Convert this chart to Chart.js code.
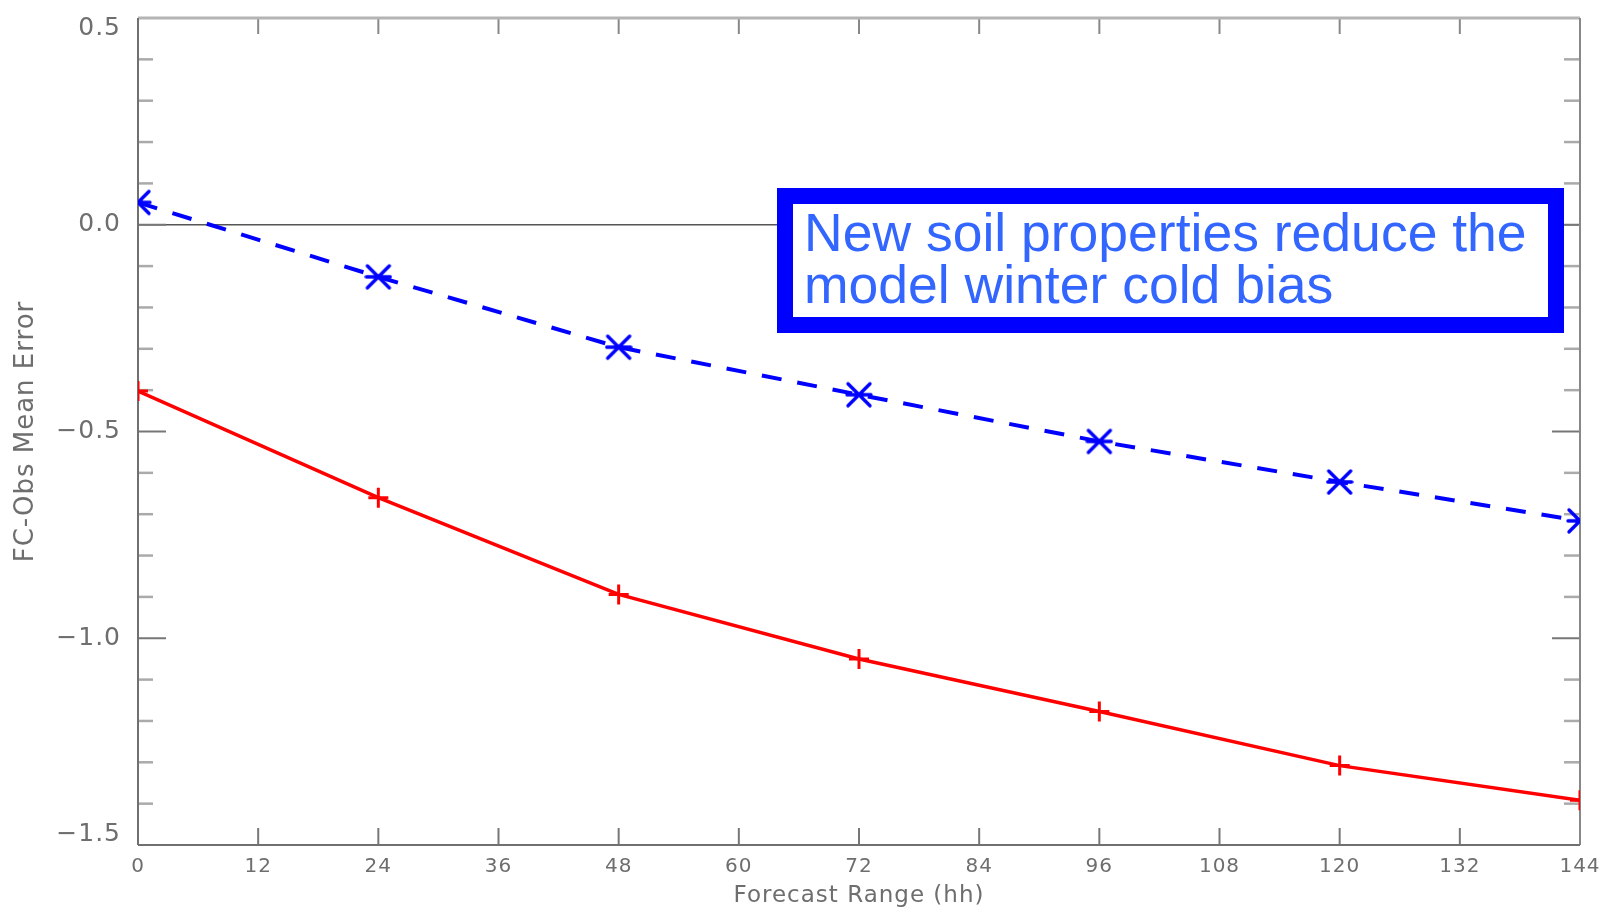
<!DOCTYPE html>
<html>
<head>
<meta charset="utf-8">
<script src="https://cdn.jsdelivr.net/npm/chart.js@4.4.1/dist/chart.umd.min.js"></script>
<style>
body { margin: 0; background: #fff; }
#wrap { position: relative; width: 1610px; height: 907px; }
#note {
  position: absolute; left: 777px; top: 188px; width: 787px; height: 145px;
  box-sizing: border-box; border: 16px solid #0000ff; background: #fff;
  color: #3366ff; font-family: "Liberation Sans", Arial, sans-serif;
  font-size: 53.5px; line-height: 52px; padding: 3px 0 0 11px; white-space: nowrap;
}
</style>
</head>
<body>
<div id="wrap">
  <canvas id="biasChart" width="1610" height="907"></canvas>
  <div id="note">New soil properties reduce the<br>model winter cold bias</div>
</div>
<script>
// forecast range (hh) and mean error of the two runs
var hours = [0, 24, 48, 72, 96, 120, 144];
var newSoil = [0.054, -0.126, -0.296, -0.411, -0.524, -0.622, -0.716];
var oldSoil = [-0.402, -0.660, -0.894, -1.050, -1.177, -1.308, -1.392];

var xTicks = [0, 12, 24, 36, 48, 60, 72, 84, 96, 108, 120, 132, 144];
var yTicks = [-1.5, -1.0, -0.5, 0.0, 0.5];
var yLabels = ['\u22121.5', '\u22121.0', '\u22120.5', '0.0', '0.5'];

var gray = '#6e6e6e';

function points(values) {
  return hours.map(function (h, i) { return { x: h, y: values[i] }; });
}

// IDL style asterisk for the blue run
var star = document.createElement('canvas');
star.width = 28; star.height = 28;
var sc = star.getContext('2d');
sc.strokeStyle = '#0000ff';
sc.lineWidth = 3.4;
sc.lineCap = 'round';
sc.beginPath();
sc.moveTo(3, 3); sc.lineTo(25, 25);
sc.moveTo(25, 3); sc.lineTo(3, 25);
sc.moveTo(2, 14); sc.lineTo(26, 14);
sc.stroke();

function seg(ctx, x1, y1, x2, y2, color, w) {
  ctx.strokeStyle = color;
  ctx.lineWidth = w;
  ctx.beginPath();
  ctx.moveTo(x1, y1);
  ctx.lineTo(x2, y2);
  ctx.stroke();
}

// box, inward ticks and zero line
var frame = {
  id: 'frame',
  beforeDraw: function (chart) {
    chart.ctx.letterSpacing = '1px';
  },
  beforeDatasetsDraw: function (chart) {
    var ctx = chart.ctx, a = chart.chartArea;
    var sx = chart.scales.x, sy = chart.scales.y;
    ctx.save();
    var y0 = sy.getPixelForValue(0);
    seg(ctx, a.left, y0, a.right, y0, '#555', 1.5);
    for (var k = -15; k <= 5; k++) {
      var py = sy.getPixelForValue(k / 10);
      if (k % 5 === 0) {
        seg(ctx, a.left, py, a.left + 28, py, '#777', 2);
        seg(ctx, a.right - 28, py, a.right, py, '#777', 2);
      } else {
        seg(ctx, a.left, py, a.left + 15, py, '#aaa', 2.5);
        seg(ctx, a.right - 16, py, a.right, py, '#aaa', 2.5);
      }
    }
    xTicks.forEach(function (v) {
      var px = sx.getPixelForValue(v);
      seg(ctx, px, a.bottom, px, a.bottom - 17, '#777', 2);
      seg(ctx, px, a.top, px, a.top + 16, '#888', 2);
    });
    seg(ctx, a.left, a.top, a.right, a.top, '#b4b4b4', 3);
    seg(ctx, a.right, a.top, a.right, a.bottom, '#888', 2);
    seg(ctx, a.left, a.bottom, a.right, a.bottom, '#707070', 2);
    seg(ctx, a.left, a.top, a.left, a.bottom, '#707070', 2);
    ctx.restore();
  }
};

var chart = new Chart(document.getElementById('biasChart').getContext('2d'), {
  type: 'line',
  data: {
    datasets: [
      {
        label: 'New soil',
        data: points(newSoil),
        borderColor: '#0000ff',
        borderWidth: 4,
        borderDash: [20, 16],
        tension: 0,
        pointStyle: star,
        pointRadius: 14
      },
      {
        label: 'Old soil',
        data: points(oldSoil),
        borderColor: '#ff0000',
        borderWidth: 3.5,
        tension: 0,
        pointStyle: 'cross',
        pointRadius: 10,
        pointBorderWidth: 3,
        pointBorderColor: '#ff0000'
      }
    ]
  },
  options: {
    responsive: false,
    animation: false,
    devicePixelRatio: 1,
    layout: { padding: { top: 11, right: 30, left: 0, bottom: 0 } },
    plugins: { legend: { display: false }, tooltip: { enabled: false } },
    scales: {
      x: {
        type: 'linear', min: 0, max: 144,
        grid: { display: false }, border: { display: false },
        afterBuildTicks: function (s) { s.ticks = xTicks.map(function (v) { return { value: v }; }); },
        ticks: { autoSkip: false, maxRotation: 0, padding: 2, color: gray,
                 font: { family: 'DejaVu Sans', size: 20 } },
        title: { display: true, text: 'Forecast Range (hh)', color: gray,
                 font: { family: 'DejaVu Sans', size: 23 }, padding: { top: 0, bottom: -3 } },
        afterFit: function (s) { s.height = 62; s.paddingLeft = 0; s.paddingRight = 0; }
      },
      y: {
        type: 'linear', min: -1.5, max: 0.5,
        grid: { display: false }, border: { display: false },
        afterBuildTicks: function (s) { s.ticks = yTicks.map(function (v) { return { value: v }; }); },
        ticks: {
          padding: 9, color: gray, font: { family: 'DejaVu Sans', size: 25, lineHeight: 0.85 },
          callback: function (v) {
            var i = yTicks.findIndex(function (t) { return Math.abs(t - v) < 1e-6; });
            var lab = yLabels[i];
            if (i === yTicks.length - 1) return ['', lab];
            if (i === 0) return [lab, ''];
            return lab;
          }
        },
        title: { display: true, text: 'FC-Obs Mean Error', color: gray,
                 font: { family: 'DejaVu Sans', size: 26 }, padding: { top: 11, bottom: 0 } },
        afterFit: function (s) { s.width = 138; s.paddingTop = 0; s.paddingBottom = 0; }
      }
    }
  },
  plugins: [frame]
});
</script>
</body>
</html>
